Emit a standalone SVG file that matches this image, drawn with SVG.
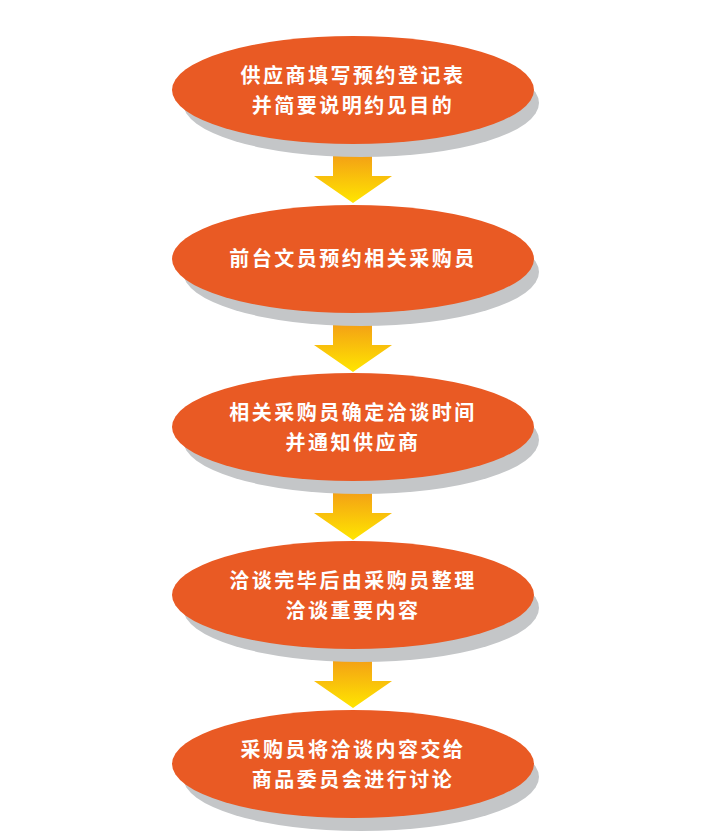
<svg xmlns="http://www.w3.org/2000/svg" width="720" height="839" viewBox="0 0 720 839">
<defs>
<linearGradient id="ag" x1="0" y1="0" x2="0" y2="1">
<stop offset="0" stop-color="#f08a1c"/>
<stop offset="1" stop-color="#ffe600"/>
</linearGradient>
<style>
.sh{fill:#c4c6c8}
.el{fill:#e95a24}
.t{fill:#fff;font-family:"Noto Sans CJK SC",sans-serif;font-size:20px;font-weight:bold;text-anchor:middle;letter-spacing:2.5px}
.ar{fill:url(#ag)}
</style>
</defs>
<rect width="720" height="839" fill="#fff"/>
<g id="connectors">
<path class="ar" d="M333,140 H372 V176 H392 L353,203 L314,176 H333 Z"/>
<path class="ar" d="M333,309 H372 V345 H392 L353,372 L314,345 H333 Z"/>
<path class="ar" d="M333,477 H372 V513 H392 L353,540 L314,513 H333 Z"/>
<path class="ar" d="M333,645 H372 V681 H392 L353,708 L314,681 H333 Z"/>
</g>
<g id="n1">
<ellipse class="sh" cx="361" cy="103" rx="178" ry="54"/>
<ellipse class="el" cx="353" cy="90" rx="181" ry="54"/>
<text class="t" x="353" y="83">供应商填写预约登记表</text>
<text class="t" x="353" y="113">并简要说明约见目的</text>
</g>
<g id="n2">
<ellipse class="sh" cx="361" cy="272" rx="178" ry="54"/>
<ellipse class="el" cx="353" cy="259" rx="181" ry="54"/>
<text class="t" x="353" y="266">前台文员预约相关采购员</text>
</g>
<g id="n3">
<ellipse class="sh" cx="361" cy="440" rx="178" ry="54"/>
<ellipse class="el" cx="353" cy="427" rx="181" ry="54"/>
<text class="t" x="353" y="420">相关采购员确定洽谈时间</text>
<text class="t" x="353" y="450">并通知供应商</text>
</g>
<g id="n4">
<ellipse class="sh" cx="361" cy="608" rx="178" ry="54"/>
<ellipse class="el" cx="353" cy="595" rx="181" ry="54"/>
<text class="t" x="353" y="588">洽谈完毕后由采购员整理</text>
<text class="t" x="353" y="618">洽谈重要内容</text>
</g>
<g id="n5">
<ellipse class="sh" cx="361" cy="777" rx="178" ry="54"/>
<ellipse class="el" cx="353" cy="764" rx="181" ry="54"/>
<text class="t" x="353" y="757">采购员将洽谈内容交给</text>
<text class="t" x="353" y="787">商品委员会进行讨论</text>
</g>
</svg>
